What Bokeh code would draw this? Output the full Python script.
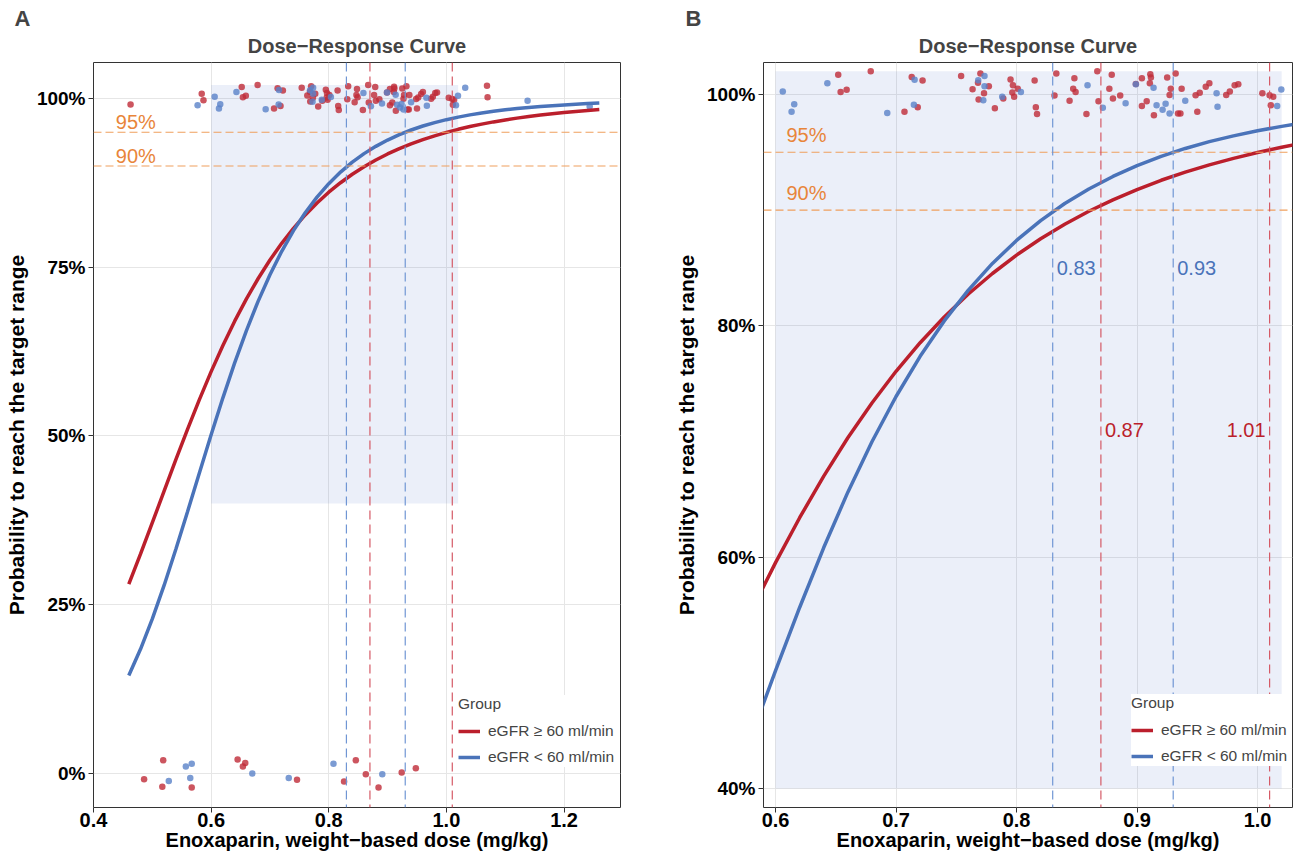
from bokeh.plotting import figure
from bokeh.layouts import row
from bokeh.models import (Range1d, FixedTicker, NumeralTickFormatter, PrintfTickFormatter,
                          Span, Title, Legend, LegendItem, Label)
from bokeh.embed import file_html
from bokeh.resources import INLINE

FONT = "Liberation Sans"

# ---------------- data ----------------
groups = ["eGFR \u2265 60 ml/min", "eGFR < 60 ml/min"]

dose_grid = [0.46, 0.48, 0.50, 0.52, 0.54, 0.56, 0.58, 0.60, 0.62, 0.64, 0.66, 0.68, 0.70,
             0.72, 0.74, 0.76, 0.78, 0.80, 0.82, 0.84, 0.86, 0.88, 0.90, 0.92, 0.94, 0.96,
             0.98, 1.00, 1.02, 1.04, 1.06, 1.08, 1.10, 1.12, 1.14, 1.16, 1.18, 1.20, 1.22,
             1.24, 1.26]
prob_ge60 = [0.2804, 0.3252, 0.3715, 0.4183, 0.4648, 0.5102, 0.5539, 0.5953, 0.6341, 0.6701,
             0.7032, 0.7333, 0.7607, 0.7854, 0.8076, 0.8275, 0.8452, 0.8611, 0.8752, 0.8878,
             0.8990, 0.9089, 0.9178, 0.9258, 0.9328, 0.9391, 0.9447, 0.9498, 0.9543, 0.9584,
             0.9620, 0.9653, 0.9682, 0.9709, 0.9733, 0.9754, 0.9774, 0.9792, 0.9808, 0.9823,
             0.9836]
prob_lt60 = [0.1452, 0.1843, 0.2290, 0.2786, 0.3321, 0.3882, 0.4453, 0.5019, 0.5565, 0.6083,
             0.6562, 0.6998, 0.7389, 0.7736, 0.8042, 0.8308, 0.8539, 0.8738, 0.8909, 0.9057,
             0.9183, 0.9291, 0.9384, 0.9464, 0.9533, 0.9592, 0.9642, 0.9686, 0.9724, 0.9757,
             0.9786, 0.9810, 0.9832, 0.9851, 0.9867, 0.9882, 0.9894, 0.9905, 0.9915, 0.9924,
             0.9932]

# observed (jittered) outcomes
ge60_dose = [0.463, 0.584, 0.587, 0.652, 0.679, 0.654, 0.659, 0.707, 0.713, 0.722, 0.718,
             0.754, 0.770, 0.768, 0.7635, 0.777, 0.773, 0.7685, 0.782, 0.789, 0.795, 0.797,
             0.801, 0.7965, 0.798, 0.815, 0.816, 0.817, 0.833, 0.8315, 0.848, 0.847, 0.849,
             0.844, 0.858, 0.867, 0.879, 0.877, 0.868, 0.880, 0.886, 0.904, 0.899, 0.911,
             0.9115, 0.9106, 0.908, 0.904, 0.914, 0.925, 0.932, 0.928, 0.927, 0.934, 0.936,
             0.937, 0.950, 0.9486, 0.952, 0.957, 0.960, 0.974, 0.977, 0.981, 0.984, 1.004,
             1.010, 1.013, 1.011, 1.069, 1.070,
             0.486, 0.5185, 0.517, 0.567, 0.645, 0.658, 0.654, 0.746, 0.846, 0.826, 0.863,
             0.8846, 0.924, 0.948]
ge60_prob = [0.991, 1.007, 0.9975, 1.017, 1.020, 1.002, 1.004, 0.985, 1.015, 1.012, 0.989,
             1.016, 1.018, 1.010, 1.0045, 1.007, 1.001, 0.9956, 0.988, 0.9965, 1.013, 1.008,
             1.005, 1.0016, 0.998, 1.012, 0.989, 0.983, 1.018, 0.999, 1.014, 1.005, 1.002,
             0.9945, 0.983, 1.020, 1.017, 1.005, 0.994, 0.9965, 0.999, 1.014, 1.009, 1.0175,
             1.0146, 1.0097, 0.994, 0.990, 0.982, 1.0146, 1.018, 1.005, 0.9996, 0.9835, 0.9835,
             1.005, 0.985, 0.9993, 1.0014, 1.0066, 1.0097, 0.9996, 1.0025, 1.008, 1.0088, 1.001,
             0.9993, 0.998, 0.9907, 1.019, 1.002,
             -0.0087, 0.0195, -0.0195, -0.0206, 0.0206, 0.0154, 0.0103, -0.0093, 0.0195,
             -0.0118, -0.001, -0.0206, 0.0015, 0.0077]
lt60_dose = [0.577, 0.606, 0.6155, 0.6133, 0.643, 0.6927, 0.7154, 0.7148, 0.7734, 0.7682,
             0.7734, 0.7724, 0.7881, 0.8036, 0.8589, 0.8716, 0.8905, 0.899, 0.9137, 0.9162,
             0.9212, 0.9237, 0.927, 0.940, 0.966, 0.9668, 1.0163, 1.0197, 1.032, 1.138, 1.2436,
             0.528, 0.557, 0.567, 0.5645, 0.670, 0.732, 0.808, 0.891]
lt60_prob = [0.990, 1.0025, 0.9915, 0.985, 1.0097, 0.984, 1.0126, 0.991, 1.016, 1.0123,
             1.007, 0.995, 0.998, 1.0022, 1.008, 0.9884, 0.9924, 1.0088, 1.0057, 0.9907,
             0.9867, 0.9919, 0.9835, 0.9945, 1.001, 0.9893, 0.9901, 1.0042, 1.016, 0.9966, 0.988,
             -0.0113, 0.0103, 0.0144, -0.0067, 0.0, -0.0067, 0.0144, -0.001]

targets = [0.95, 0.90]
target_labels = ["95%", "90%"]
cutoff_ge60 = [0.87, 1.01]
cutoff_lt60 = [0.83, 0.93]
zoom_left, zoom_right, zoom_bottom, zoom_top = [0.60], [1.02], [0.40], [1.02]

ticks_a_x = [0.4, 0.6, 0.8, 1.0, 1.2]
ticks_a_y = [0.0, 0.25, 0.5, 0.75, 1.0]
ticks_b_x = [0.6, 0.7, 0.8, 0.9, 1.0]
ticks_b_y = [0.4, 0.6, 0.8, 1.0]

# ---------------- styles ----------------
RED_LINE, BLUE_LINE = "#BB1F2C", "#4A73B9"
RED_PT, BLUE_PT = "#BF2A37", "#5A82C8"
RED_DASH, BLUE_DASH = "#D55A66", "#7096D4"
ORANGE_LINE, ORANGE_TXT = "#F0A05E", "#E8853A"
SHADE = "#4A6CC8"


def make_panel(letter, width, border_left, border_right, letter_offset, xr, yr,
               xticks, yticks, target_x, legend_loc, show_values):
    p = figure(width=width, height=856, x_range=Range1d(*xr), y_range=Range1d(*yr),
               output_backend="svg", toolbar_location=None, title=None,
               min_border_left=border_left, min_border_right=border_right,
               min_border_top=62, min_border_bottom=49,
               background_fill_color="white", border_fill_color="white")
    p.outline_line_color = "#333333"
    p.outline_line_width = 1

    # axes
    p.xaxis.ticker = FixedTicker(ticks=xticks)
    p.yaxis.ticker = FixedTicker(ticks=yticks)
    p.xgrid.ticker = FixedTicker(ticks=xticks)
    p.ygrid.ticker = FixedTicker(ticks=yticks)
    p.xaxis.formatter = PrintfTickFormatter(format="%.1f")
    p.yaxis.formatter = NumeralTickFormatter(format="0%")
    p.grid.grid_line_color = "#E6E6E6"
    p.grid.grid_line_width = 1
    for ax in (p.xaxis, p.yaxis):
        ax.axis_line_color = None
        ax.major_tick_line_color = "#333333"
        ax.major_tick_out = 5
        ax.major_tick_in = 0
        ax.minor_tick_line_color = None
        ax.major_label_text_font = FONT
        ax.major_label_text_font_style = "bold"
        ax.major_label_text_color = "black"
        ax.axis_label_text_font = FONT
        ax.axis_label_text_font_style = "bold"
        ax.axis_label_text_color = "black"
    p.xaxis.major_label_text_font_size = "20px"
    p.yaxis.major_label_text_font_size = "19px"
    p.xaxis.major_label_standoff = 0
    p.yaxis.major_label_standoff = 3
    p.xaxis.axis_label = "Enoxaparin, weight\u2212based dose (mg/kg)"
    p.yaxis.axis_label = "Probability to reach the target range"
    p.xaxis.axis_label_text_font_size = "20px"
    p.yaxis.axis_label_text_font_size = "21px"
    p.xaxis.axis_label_standoff = -1
    p.yaxis.axis_label_standoff = 6

    # titles
    p.add_layout(Title(text="Dose\u2212Response Curve", align="center", text_font=FONT,
                       text_font_size="20px", text_font_style="bold", standoff=11), "above")
    p.add_layout(Title(text=letter, align="left", offset=letter_offset, text_font=FONT,
                       text_font_size="22px", text_font_style="bold", standoff=-6), "above")

    # zoom region shading
    p.quad(left=zoom_left, right=zoom_right, bottom=zoom_bottom, top=zoom_top,
           fill_color=SHADE, fill_alpha=0.11, line_color=None)

    # target lines
    for t, lab in zip(targets, target_labels):
        p.add_layout(Span(location=t, dimension="width", line_color=ORANGE_LINE,
                          line_width=1.2, line_dash="8 4"))
        p.add_layout(Label(x=target_x, y=t + 0.015, text=lab, text_font=FONT,
                           text_font_size="20px", text_color=ORANGE_TXT,
                           text_baseline="middle", text_align="left"))

    # cutoff lines
    for c in cutoff_lt60:
        p.add_layout(Span(location=c, dimension="height", line_color=BLUE_DASH,
                          line_width=1.2, line_dash="9 5"))
    for c in cutoff_ge60:
        p.add_layout(Span(location=c, dimension="height", line_color=RED_DASH,
                          line_width=1.2, line_dash="9 5"))

    # points
    p.scatter(ge60_dose, ge60_prob, size=6.5, fill_color=RED_PT, fill_alpha=0.8, line_color=None)
    p.scatter(lt60_dose, lt60_prob, size=6.5, fill_color=BLUE_PT, fill_alpha=0.8, line_color=None)

    # curves
    r_red = p.line(dose_grid, prob_ge60, line_color=RED_LINE, line_width=3.5)
    r_blue = p.line(dose_grid, prob_lt60, line_color=BLUE_LINE, line_width=3.5)

    if show_values:
        for c in cutoff_lt60:
            p.add_layout(Label(x=c, y=0.85, x_offset=4, text=f"{c:.2f}", text_font=FONT,
                               text_font_size="20px", text_color=BLUE_LINE,
                               text_baseline="middle", text_align="left"))
        for i, c in enumerate(cutoff_ge60):
            right = i == len(cutoff_ge60) - 1
            p.add_layout(Label(x=c, y=0.71, x_offset=-4 if right else 4, text=f"{c:.2f}",
                               text_font=FONT, text_font_size="20px", text_color=RED_LINE,
                               text_baseline="middle",
                               text_align="right" if right else "left"))

    legend = Legend(items=[LegendItem(label=groups[0], renderers=[r_red]),
                           LegendItem(label=groups[1], renderers=[r_blue])],
                    location=legend_loc, title="Group",
                    title_text_font=FONT, title_text_font_size="15.5px",
                    title_text_font_style="normal", title_standoff=8,
                    label_text_font=FONT, label_text_font_size="15.5px",
                    glyph_width=22, glyph_height=20, label_height=20, label_standoff=8,
                    padding=7, spacing=6, border_line_color=None,
                    background_fill_color="white", background_fill_alpha=1.0)
    p.add_layout(legend)
    return p


pa = make_panel("A", 640, 93, 20, -79, (0.4, 1.296), (-0.0504, 1.0533),
                ticks_a_x, ticks_a_y, 0.438, (365, 40), False)
pb = make_panel("B", 653, 123, 1, -78, (0.59, 1.029), (0.3836, 1.0276),
                ticks_b_x, ticks_b_y, 0.609, (368, 41), True)

layout = row(pa, pb)
open("out.html", "w").write(file_html(layout, INLINE))
